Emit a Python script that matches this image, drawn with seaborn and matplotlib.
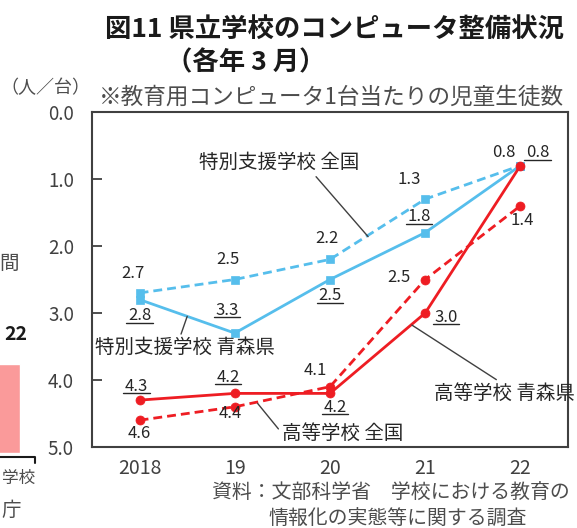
import numpy as np
import matplotlib
matplotlib.use("Agg")
import matplotlib.pyplot as plt
from matplotlib.lines import Line2D
import seaborn as sns

# ---- data (students per educational computer, March of each year) ----
years = ["2018", "19", "20", "21", "22"]
tokubetsu_zenkoku = [2.7, 2.5, 2.2, 1.3, 0.8]   # special-needs schools, national
tokubetsu_aomori = [2.8, 3.3, 2.5, 1.8, 0.8]    # special-needs schools, Aomori
koutou_aomori = [4.3, 4.2, 4.2, 3.0, 0.8]       # high schools, Aomori
koutou_zenkoku = [4.6, 4.4, 4.1, 2.5, 1.4]      # high schools, national
yticks = [0.0, 1.0, 2.0, 3.0, 4.0, 5.0]

sns.set_theme(style="white")
plt.rcParams["font.family"] = ["Noto Sans CJK JP", "DejaVu Sans"]

BLUE = "#56BEEC"
RED = "#EE1D23"
INK = "#262626"
GREY = "#404040"
SOFT = "#4d4d4d"

W, H = 577, 528
fig = plt.figure(figsize=(W / 100, H / 100), dpi=100)


def fx(px):
    return px / W


def fy(py):
    return 1 - py / H


ax = fig.add_axes([fx(92), fy(447), fx(568) - fx(92), fy(112) - fy(447)])
xpos = np.arange(len(years))

dash = (0, (3.2, 1.8))
sns.lineplot(x=xpos, y=tokubetsu_zenkoku, ax=ax, color=BLUE, lw=2.0,
             linestyle=dash, marker="s", markersize=6,
             markeredgecolor=BLUE, markeredgewidth=0.5, zorder=3)
sns.lineplot(x=xpos, y=tokubetsu_aomori, ax=ax, color=BLUE, lw=2.0,
             marker="s", markersize=6,
             markeredgecolor=BLUE, markeredgewidth=0.5, zorder=3)
sns.lineplot(x=xpos, y=koutou_zenkoku, ax=ax, color=RED, lw=2.0,
             linestyle=dash, marker="o", markersize=6.5,
             markeredgecolor=RED, markeredgewidth=0.5, zorder=4)
sns.lineplot(x=xpos, y=koutou_aomori, ax=ax, color=RED, lw=2.0,
             marker="o", markersize=6.5,
             markeredgecolor=RED, markeredgewidth=0.5, zorder=5)

ax.set_xlim(-0.5, len(years) - 0.5)
ax.set_ylim(5.0, 0.0)
ax.set_yticks(yticks)
ax.set_yticklabels([f"{v:.1f}" for v in yticks])
ax.set_xticks(xpos)
ax.set_xticklabels(years)
ax.tick_params(axis="y", direction="in", length=7, width=1.3, color=GREY,
               labelsize=13.5, labelcolor=GREY, pad=13, left=True)
ax.tick_params(axis="x", length=0, labelsize=14, labelcolor=GREY, pad=8)
for s in ax.spines.values():
    s.set_visible(True)
    s.set_color(GREY)
    s.set_linewidth(1.5)
ax.set_xlabel("")
ax.set_ylabel("")
ax.grid(False)

# ---- value labels (offsets in pixels from each point) ----
underlined = []


def value_label(i, v, dx, dy, underline=False):
    t = ax.annotate(f"{v:.1f}", (xpos[i], v), xytext=(dx, dy),
                    textcoords="offset pixels", ha="center", va="center",
                    fontsize=12, color=INK, zorder=6)
    if underline:
        underlined.append(t)


for i, (v, off) in enumerate(zip(tokubetsu_zenkoku,
                                 [(-7, 19), (-7, 20), (-3, 21), (-16, 20), (-17, 13)])):
    value_label(i, v, *off)
for i, (v, off) in enumerate(zip(tokubetsu_aomori,
                                 [(0, -16), (-8, 23), (0, -16), (-6, 16), (17, 13)])):
    value_label(i, v, *off, underline=True)
for i, (v, off) in enumerate(zip(koutou_aomori[:4],
                                 [(-3, 14), (-7, 16), (5, -14), (21, -4)])):
    value_label(i, v, *off, underline=True)
for i, (v, off) in enumerate(zip(koutou_zenkoku,
                                 [(0, -13), (-5, -7), (-15, 16), (-26, 2), (2, -15)])):
    value_label(i, v, *off)

# ---- series names with leader lines ----
leader = dict(arrowstyle="-", color=GREY, lw=1.0, shrinkA=0, shrinkB=0)


def series_name(text, xy, xytext, relpos):
    ax.annotate(text, xy=xy, xytext=xytext, textcoords="data",
                ha="center", va="center", fontsize=14, color=INK,
                annotation_clip=False, zorder=6,
                arrowprops=dict(leader, relpos=relpos))


series_name("特別支援学校 全国", (2.40, 1.86), (1.47, 0.76), (0.71, 0.0))
series_name("特別支援学校 青森県", (0.50, 3.05), (0.48, 3.52), (0.47, 1.0))
series_name("高等学校 青森県", (2.86, 3.18), (3.83, 4.20), (0.48, 1.0))
series_name("高等学校 全国", (1.24, 4.35), (2.13, 4.79), (0.0, 0.5))

# ---- titles and notes ----
fig.text(fx(105), fy(30), "図11 県立学校のコンピュータ整備状況",
         fontsize=19, fontweight="bold", color="#1a1a1a", va="center", ha="left")
fig.text(fx(166), fy(63), "（各年 3 月）",
         fontsize=19, fontweight="bold", color="#1a1a1a", va="center", ha="left")
fig.text(fx(0), fy(88), "（人／台）", fontsize=13, color=SOFT,
         va="center", ha="left")
fig.text(fx(99), fy(97), "※教育用コンピュータ1台当たりの児童生徒数",
         fontsize=16.3, color=SOFT, va="center", ha="left")
fig.text(fx(212), fy(493), "資料：文部科学省　学校における教育の",
         fontsize=14.3, color=SOFT, va="center", ha="left")
fig.text(fx(268), fy(519), "情報化の実態等に関する調査",
         fontsize=14.3, color=SOFT, va="center", ha="left")

# ---- edge of the neighbouring panel ----
side = fig.add_axes([fx(-40), fy(453), fx(75), fy(320) - fy(453)])
side.bar([0], [67], width=1.0, color="#FA9A9A")
side.set_xlim(-1.5, 1.0)
side.set_ylim(0, 100)
side.axis("off")
fig.text(fx(27), fy(335), "22", fontsize=14, fontweight="bold",
         color="#1a1a1a", va="center", ha="right")
fig.text(fx(19), fy(263), "間", fontsize=14, color=SOFT, va="center", ha="right")
fig.text(fx(35), fy(478), "学校", fontsize=12, color=SOFT, va="center", ha="right")
fig.text(fx(21), fy(510), "庁", fontsize=14, color=SOFT, va="center", ha="right")
fig.add_artist(Line2D([fx(0), fx(35), fx(35)], [fy(457), fy(457), fy(463)],
                      transform=fig.transFigure, color="#1a1a1a", lw=1.5))

# ---- underline the Aomori values ----
fig.canvas.draw()
renderer = fig.canvas.get_renderer()
for t in underlined:
    bb = t.get_window_extent(renderer)
    yline = bb.y0 + 1.5
    fig.add_artist(Line2D([(bb.x0 - 1.5) / W, (bb.x1 + 1.5) / W],
                          [yline / H, yline / H],
                          transform=fig.transFigure, color=INK, lw=1.0))

fig.savefig("out.png", dpi=100, facecolor="white")
